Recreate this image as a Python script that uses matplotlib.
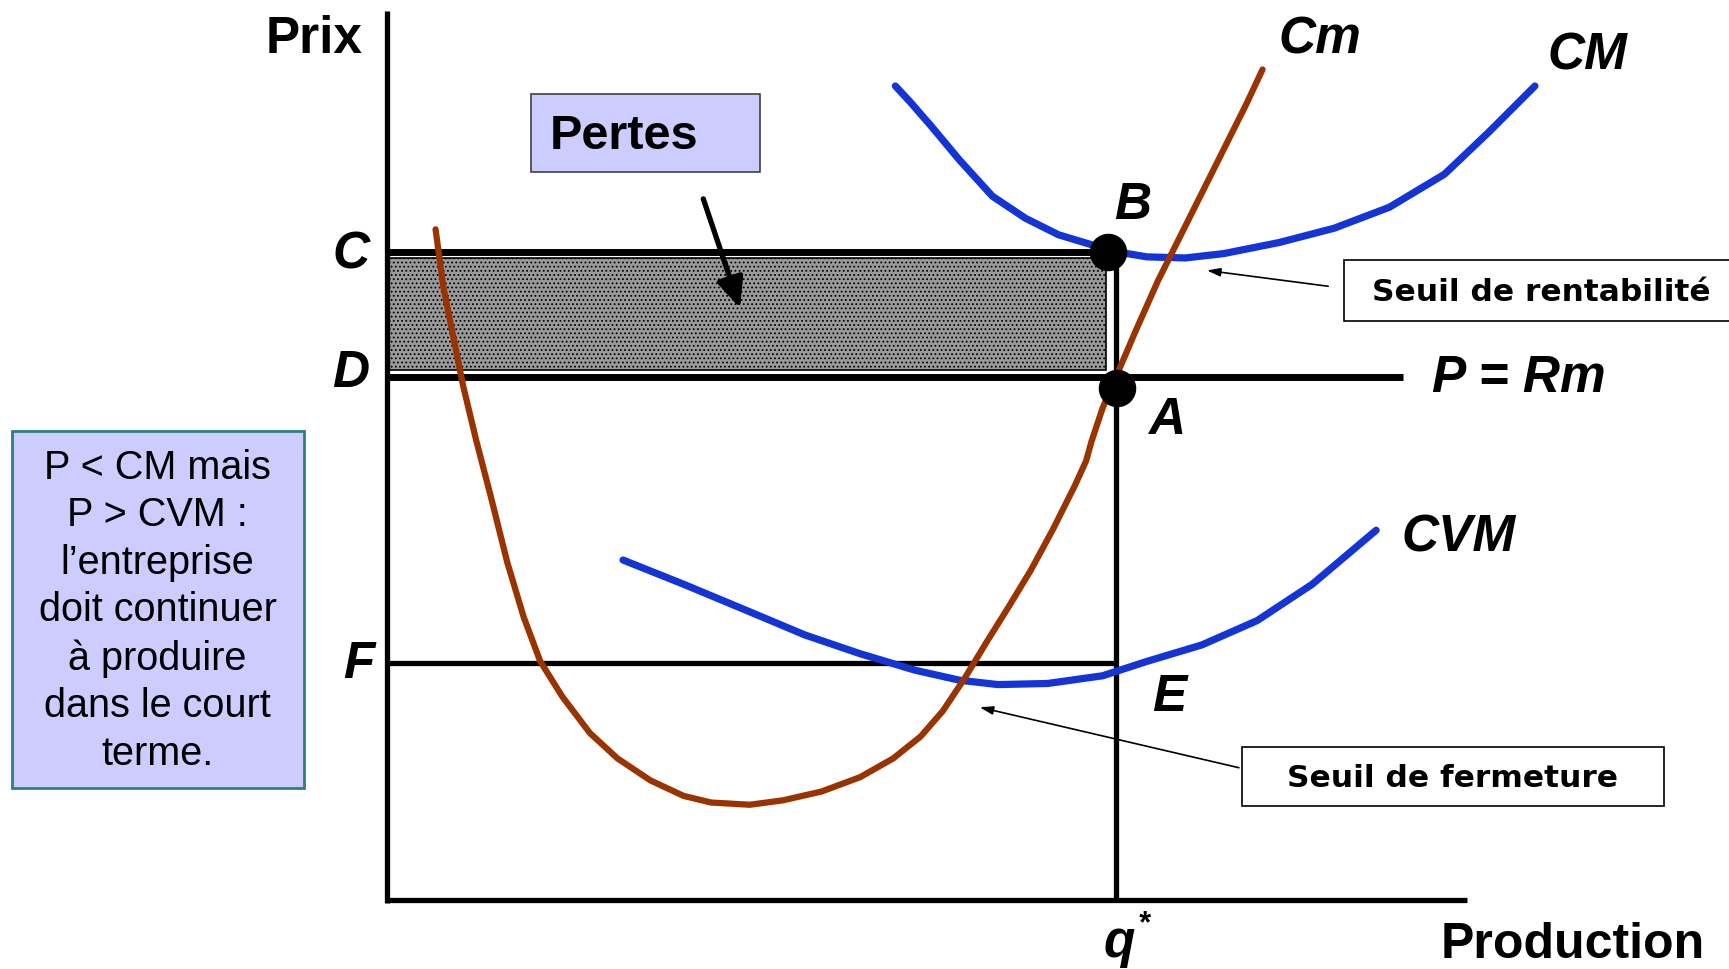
import numpy as np
import matplotlib
matplotlib.use("Agg")
import matplotlib.pyplot as plt
from matplotlib.patches import Rectangle

# --- data (production q, prix p) ---
cm_q = [44, 51, 59, 69, 81, 94, 109, 124, 139, 159, 184, 209, 239, 269, 294, 329, 359, 394,
        429, 459, 484, 504, 524, 544, 564, 584, 604, 624, 634, 639, 649, 664, 679, 699, 719,
        739, 759, 779, 794]
cm_p = [608, 556, 516, 466, 416, 366, 306, 256, 216, 184, 151, 128, 108, 94, 88, 86, 90, 98,
        111, 128, 148, 171, 201, 234, 266, 299, 336, 376, 398, 416, 446, 481, 516, 561, 601,
        641, 681, 721, 753]

cmoy_q = [461, 474, 494, 519, 549, 579, 609, 639, 659, 689, 724, 759, 809, 859, 909, 959, 999, 1041]
cmoy_p = [738, 724, 701, 671, 638, 618, 603, 594, 588, 583, 582, 586, 596, 609, 628, 658, 696, 738]

cvm_q = [214, 269, 329, 379, 429, 479, 519, 554, 599, 649, 689, 739, 789, 839, 897]
cvm_p = [308, 286, 261, 240, 223, 208, 199, 195, 196, 203, 216, 231, 253, 286, 335]

prix_C = 587
prix_D = 474
prix_F = 215
q_star = 661
q_max = 979
p_max = 806

FONT = ["Liberation Sans", "DejaVu Sans"]
BROWN = "#993300"
BLUE = "#1434D6"
LILAC = "#CCCCFF"

fig = plt.figure(figsize=(17.29, 9.69), dpi=100)
ax = fig.add_axes([0, 0, 1, 1])
ax.set_xlim(-351, 1217)
ax.set_ylim(-63, 816)
ax.axis("off")

# axes
ax.plot([0, 0], [-3, p_max], color="black", lw=3.8, solid_capstyle="butt")
ax.plot([0, q_max], [0, 0], color="black", lw=3.8, solid_capstyle="butt")

# loss area
plt.rcParams["hatch.color"] = "#444444"
plt.rcParams["hatch.linewidth"] = 0.8
ax.add_patch(Rectangle((2, prix_D + 6), q_star - 9 - 2, prix_C - prix_D - 11,
                       facecolor="#9a9a9a", edgecolor="black", lw=1.2, hatch="....", zorder=1))

# horizontal / vertical guides
ax.plot([0, q_star - 7], [prix_C, prix_C], color="black", lw=5, solid_capstyle="butt", zorder=2)
ax.plot([0, 921], [prix_D, prix_D], color="black", lw=5, solid_capstyle="butt", zorder=2)
ax.plot([0, q_star], [prix_F, prix_F], color="black", lw=3.8, solid_capstyle="butt", zorder=2)
ax.plot([q_star, q_star], [0, prix_C], color="black", lw=3.8, solid_capstyle="butt", zorder=2)

# curves
ax.plot(cmoy_q, cmoy_p, color=BLUE, lw=5.2, solid_capstyle="round", zorder=3)
ax.plot(cvm_q, cvm_p, color=BLUE, lw=5.2, solid_capstyle="round", zorder=3)
ax.plot(cm_q, cm_p, color=BROWN, lw=4.5, solid_capstyle="round", zorder=4)

# points B and A
ax.plot([q_star - 7], [prix_C], "o", color="black", ms=26, zorder=5)
ax.plot([q_star + 1], [prix_D - 10], "o", color="black", ms=26, zorder=5)

big = dict(fontsize=37, fontweight="bold", family=FONT, ha="center", va="center")
bigi = dict(big, style="italic")
ax.text(-66, 780, "Prix", **big)
ax.text(1075, -41, "Production", fontsize=36, fontweight="bold", family=FONT, ha="center", va="center")
ax.text(846, 780, "Cm", **bigi)
ax.text(1089, 765, "CM", **bigi)
ax.text(972, 328, "CVM", **bigi)
ax.text(1026, 473, "P = Rm", **bigi)
ax.text(676, 630, "B", **bigi)
ax.text(707, 435, "A", **bigi)
ax.text(709, 183, "E", **bigi)
ax.text(-33, 585, "C", **bigi)
ax.text(-33, 477, "D", **bigi)
ax.text(-26, 213, "F", **bigi)
ax.text(664, -40, "q", **bigi)
ax.text(686, -22, "*", fontsize=22, fontweight="bold", style="italic", family=FONT,
        ha="center", va="center")

# "Pertes" box and arrow
ax.add_patch(Rectangle((131, 660), 207, 71, facecolor=LILAC, edgecolor="#404040", lw=1.2, zorder=2))
ax.text(215, 692, "Pertes", fontsize=35, fontweight="bold", family=FONT, ha="center", va="center", zorder=3)
ax.annotate("", xy=(321, 534), xytext=(286, 638),
            arrowprops=dict(arrowstyle="-|>,head_length=1.8,head_width=0.8", color="black", lw=3.8),
            zorder=3)

# left explanation box
ax.add_patch(Rectangle((-340, 101), 265, 324, facecolor=LILAC, edgecolor="#2E7F7F", lw=2, zorder=2))
ax.text(-208, 262, "P < CM mais\nP > CVM :\nl\u2019entreprise\ndoit continuer\n\u00e0 produire\ndans le court\nterme.",
        fontsize=28.5, family=FONT, ha="center", va="center", linespacing=1.32, zorder=3)

# thresholds
ax.add_patch(Rectangle((868, 525), 400, 55, facecolor="white", edgecolor="black", lw=1.2, zorder=2,
                       clip_on=False))
ax.text(1047, 551, "Seuil de rentabilit\u00e9", fontsize=22.5, fontweight="bold", family="DejaVu Sans",
        ha="center", va="center", zorder=3)
ax.annotate("", xy=(741, 571), xytext=(856, 556),
            arrowprops=dict(arrowstyle="-|>,head_length=0.8,head_width=0.25", color="black", lw=1.2))

ax.add_patch(Rectangle((775, 85), 383, 53, facecolor="white", edgecolor="black", lw=1.2, zorder=2))
ax.text(966, 110, "Seuil de fermeture", fontsize=22.5, fontweight="bold", family="DejaVu Sans",
        ha="center", va="center", zorder=3)
ax.annotate("", xy=(535, 175), xytext=(775, 119),
            arrowprops=dict(arrowstyle="-|>,head_length=0.8,head_width=0.25", color="black", lw=1.2))

fig.savefig("out.png", dpi=100)
